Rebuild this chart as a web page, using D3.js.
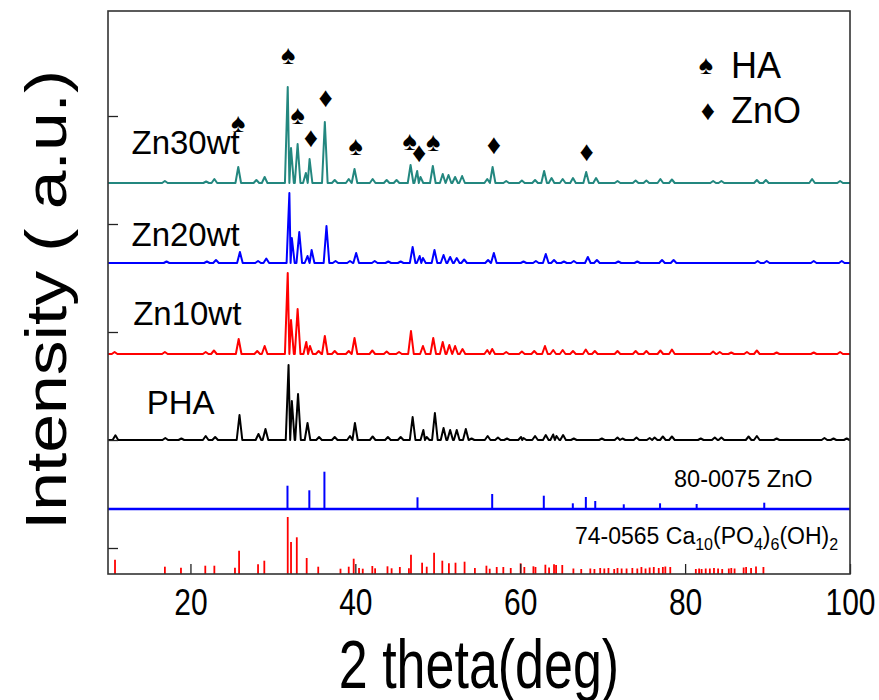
<!DOCTYPE html>
<html>
<head>
<meta charset="utf-8">
<script src="https://cdn.jsdelivr.net/npm/d3@7"></script>
<style>
  body { margin: 0; background: #fff; }
  text { font-family: Arial, "Liberation Sans", sans-serif; }
</style>
</head>
<body>
<div id="chart"></div>
<script>
// XRD patterns, peaks as [2theta, intensity (a.u.)]
var zn30Peaks = [[16.9,2],[21.9,1.5],[22.9,4],[25.8,16],[28.0,3],[29.0,6],[31.8,96],[32.2,35],[33.0,39],[34.0,10],[34.45,24],[36.3,61],[37.5,3],[39.2,4],[39.9,14],[42.1,4],[43.8,3],[45.0,3],[46.7,18],[47.5,12],[47.9,6],[49.4,17],[50.6,9],[51.3,8],[52.1,6],[52.95,7],[56.0,4],[56.65,16],[58.3,2],[60.2,2.5],[61.8,3],[62.9,12],[63.8,5],[65.15,4],[66.4,5],[68.0,11],[69.2,5],[71.8,2],[74.0,2.5],[75.3,2.5],[77.0,4],[78.4,3.5],[83.4,2],[84.4,2],[88.7,3],[89.8,3],[95.4,4],[98.8,2]];
var zn20Peaks = [[17.1,1.5],[22.0,1.5],[23.1,3],[26.0,11],[28.2,2],[29.2,4.5],[32.0,70],[32.3,25],[33.2,31],[34.2,7],[34.7,13],[36.5,37],[37.6,2],[39.35,2],[40.1,10],[42.35,2],[44.0,1.5],[45.5,1.5],[46.95,16],[47.8,7],[48.2,5],[49.6,13],[50.7,8],[51.5,6],[52.3,5],[53.2,3.5],[56.1,3],[56.8,10],[60.4,1.5],[61.9,2],[63.1,9],[64.1,3],[65.3,1.5],[66.5,2],[68.2,6],[69.3,3],[71.9,1.5],[74.2,1.5],[77.2,3],[78.6,3],[88.8,2],[89.9,2],[95.6,2],[99.0,2]];
var zn10Peaks = [[10.8,2],[16.9,2],[21.85,2],[22.85,3.5],[25.85,15],[28.1,3],[29.0,8],[31.8,81],[32.2,34],[33.0,45],[34.05,12],[34.5,8],[35.55,3],[36.3,18],[37.5,3],[39.2,3],[39.9,16],[42.06,3.5],[43.8,2.5],[45.3,2],[46.75,23],[48.2,8],[49.45,16],[50.6,12],[51.4,9],[52.1,8],[53.0,5],[56.0,4],[56.6,5],[58.3,2],[60.2,2.5],[61.7,3],[63.0,8],[64.0,4],[65.15,4],[66.4,3],[67.95,4.5],[69.05,3],[71.8,3],[74.0,3],[75.3,3],[77.0,3.5],[78.4,4.5],[83.4,2.5],[84.2,2],[85.6,1.5],[87.5,2],[88.7,3.5],[91.1,1.5],[95.6,1.5],[98.8,2]];
var phaPeaks = [[10.9,4.7],[16.95,2],[18.9,1.5],[21.85,4],[23.0,3],[25.95,25],[28.25,6],[29.1,11],[31.9,75],[32.3,39],[33.05,46],[34.2,17],[35.6,3],[37.5,3],[39.35,4],[39.95,17],[42.1,3.5],[43.95,3],[45.5,3],[46.95,23],[48.25,10],[48.65,3],[49.65,27],[50.7,12],[51.5,10],[52.3,10],[53.4,11],[54.1,1.5],[56.05,4],[57.3,2.5],[58.4,1.5],[60.1,3],[60.4,2],[61.8,4],[63.1,5],[64.0,5.5],[64.4,4],[65.2,5],[66.5,1.5],[69.9,1.5],[71.8,2.5],[72.4,1.5],[74.1,2.5],[75.7,2],[76.3,2.5],[77.3,3.5],[78.4,3.5],[81.9,1.5],[83.6,2.5],[84.4,2.5],[87.7,3.5],[88.7,4],[91.1,1.5],[96.9,2],[98.0,1.5],[99.6,1.5]];

var sampleNames = ["Zn30wt", "Zn20wt", "Zn10wt", "PHA"];
var sampleOffsets = [365, 285, 194, 108];
var sampleColors = ["#23877f", "#0000ff", "#ff0000", "#000000"];

// reference cards (stick patterns)
var znoSticks = [[31.77,23.3],[34.42,18.7],[36.25,37.3],[47.54,11.7],[56.6,15],[62.86,13.3],[66.38,5.7],[67.96,12],[69.1,8],[72.56,4.7],[76.96,5.7],[81.4,5],[89.6,6.3]];
var haSticks = [[10.85,14.3],[16.9,7.3],[18.85,6.3],[21.8,8.3],[22.9,8.3],[25.4,6.3],[25.9,23.3],[28.2,9.7],[28.96,13.3],[31.8,57],[32.2,32],[32.9,36.7],[34.1,16],[35.5,7.3],[38.2,5.3],[39.2,7.3],[39.8,15.3],[40.45,6],[40.9,5.3],[42.06,8],[42.4,5.7],[43.9,7.7],[44.4,5.7],[45.4,7],[46.5,5.7],[46.75,19.3],[48.1,11.3],[48.66,7.3],[49.55,21.3],[50.55,13.3],[51.35,10.7],[52.15,11.3],[53.25,12.3],[54.5,6],[55.9,8.3],[56.3,5.3],[57.15,7],[57.95,7],[58.85,6],[60.05,10.7],[60.5,7],[61.6,7.7],[61.85,7],[63.05,9.3],[63.5,6.5],[64.1,9.7],[64.35,9],[65.1,9],[66.45,5.5],[67.4,5],[68.5,5.5],[69.0,5],[69.7,6],[70.2,5.5],[70.7,6],[71.4,5],[71.8,6],[72.3,5.5],[72.9,5.5],[73.6,6],[74.2,5.5],[74.7,7],[75.2,5.5],[75.7,6.5],[76.2,7],[76.8,6],[77.3,7],[77.6,7.5],[78.2,7],[81.3,5],[81.7,5.5],[82.0,5],[82.5,5.5],[83.0,5.5],[83.5,6],[84.0,5.5],[84.5,5],[85.3,5.5],[85.6,6],[86.0,5.5],[87.1,6.5],[87.4,7],[88.0,6],[88.6,7.5],[89.5,7]];
var znoOffset = 39;
var haOffset = -26;

// phase markers above the Zn30wt pattern: [2theta, level]
var haMarks = [[25.8,425],[31.85,493],[33.0,433],[40.05,402],[46.6,407],[49.45,406]];
var znoMarks = [[36.4,451],[34.6,411],[47.75,396],[56.8,404],[68.05,397]];

var xTicks = [20, 40, 60, 80, 100];
var yTicks = [0, 108, 216, 324, 432];

var W = 879, H = 700;
var margin = {top: 11, right: 29, bottom: 126, left: 108};

var svg = d3.select("#chart").append("svg")
    .attr("width", W)
    .attr("height", H);

var x = d3.scaleLinear().domain([10, 100]).range([margin.left, W - margin.right]);
var y = d3.scaleLinear().domain([-26, 537]).range([H - margin.bottom, margin.top]);

var HW = 0.34; // half width of a peak foot, deg

function profile(peaks) {
    var s = peaks.slice().sort(function (a, b) { return a[0] - b[0]; });
    var pts = [[10, 0]];
    s.forEach(function (p, i) {
        var prev = i > 0 ? (s[i - 1][0] + p[0]) / 2 : 10;
        var next = i < s.length - 1 ? (s[i + 1][0] + p[0]) / 2 : 100;
        pts.push([Math.max(p[0] - HW, prev), 0], [p[0], p[1]], [Math.min(p[0] + HW, next), 0]);
    });
    pts.push([100, 0]);
    return pts;
}

var allPeaks = [zn30Peaks, zn20Peaks, zn10Peaks, phaPeaks];

var plot = svg.append("g");

allPeaks.forEach(function (peaks, k) {
    var off = sampleOffsets[k];
    var line = d3.line()
        .x(function (d) { return x(d[0]); })
        .y(function (d) { return y(d[1] + off); });
    plot.append("path")
        .attr("d", line(profile(peaks)))
        .attr("fill", "none")
        .attr("stroke", sampleColors[k])
        .attr("stroke-width", 2)
        .attr("stroke-linejoin", "round");
});

// ZnO card
plot.append("line")
    .attr("x1", x(10)).attr("x2", x(100))
    .attr("y1", y(znoOffset)).attr("y2", y(znoOffset))
    .attr("stroke", "#0000ff").attr("stroke-width", 2.5);
plot.selectAll(".zno").data(znoSticks).enter().append("line")
    .attr("class", "zno")
    .attr("x1", function (d) { return x(d[0]); })
    .attr("x2", function (d) { return x(d[0]); })
    .attr("y1", y(znoOffset))
    .attr("y2", function (d) { return y(znoOffset + d[1]); })
    .attr("stroke", "#0000ff").attr("stroke-width", 2);

// HA card
plot.selectAll(".ha").data(haSticks).enter().append("line")
    .attr("class", "ha")
    .attr("x1", function (d) { return x(d[0]); })
    .attr("x2", function (d) { return x(d[0]); })
    .attr("y1", y(haOffset))
    .attr("y2", function (d) { return y(haOffset + d[1]); })
    .attr("stroke", "#ff0000").attr("stroke-width", 1.8);

// axes, ticks inward
var xAxis = d3.axisBottom(x).tickValues(xTicks).tickSizeInner(-10).tickSizeOuter(0);
var gx = svg.append("g")
    .attr("transform", "translate(0," + y(-26) + ")")
    .call(xAxis);
gx.select(".domain").remove();
gx.selectAll("line").attr("stroke", "#222").attr("stroke-width", 1.3);
gx.selectAll("text")
    .attr("y", 0).attr("dy", 0)
    .attr("transform", "translate(0,41) scale(1,1.25)")
    .attr("font-size", 30).attr("fill", "#000")
    .attr("font-family", "Arial, 'Liberation Sans', sans-serif");

var yAxis = d3.axisLeft(y).tickValues(yTicks).tickSizeInner(-10).tickSizeOuter(0).tickFormat("");
var gy = svg.append("g")
    .attr("transform", "translate(" + x(10) + ",0)")
    .call(yAxis);
gy.select(".domain").remove();
gy.selectAll("line").attr("stroke", "#222").attr("stroke-width", 1.3);

svg.append("rect")
    .attr("x", x(10)).attr("y", y(537))
    .attr("width", x(100) - x(10)).attr("height", y(-26) - y(537))
    .attr("fill", "none").attr("stroke", "#333").attr("stroke-width", 1.6);

// sample labels
var labelPos = [[12.85, 29], [12.85, 17], [13.05, 29], [14.7, 26]];
sampleNames.forEach(function (name, k) {
    svg.append("text")
        .attr("x", x(labelPos[k][0]))
        .attr("y", y(sampleOffsets[k]) - labelPos[k][1])
        .attr("font-size", 33)
        .text(name);
});

// phase markers
function mark(sel, data, glyph, size) {
    sel.selectAll(null).data(data).enter().append("text")
        .attr("x", function (d) { return x(d[0]); })
        .attr("y", function (d) { return y(d[1]); })
        .attr("text-anchor", "middle")
        .attr("dominant-baseline", "central")
        .attr("font-family", "'DejaVu Sans', sans-serif")
        .attr("font-size", size)
        .text(glyph);
}
mark(svg, haMarks, "\u2660", 27);
mark(svg, znoMarks, "\u2666", 28);

// legend
var lg = svg.append("g").attr("transform", "translate(706,0)");
lg.append("text").attr("x", 0).attr("y", 65).attr("text-anchor", "middle")
    .attr("dominant-baseline", "central").attr("font-family", "'DejaVu Sans', sans-serif")
    .attr("font-size", 27).text("\u2660");
lg.append("text").attr("x", 2).attr("y", 110).attr("text-anchor", "middle")
    .attr("dominant-baseline", "central").attr("font-family", "'DejaVu Sans', sans-serif")
    .attr("font-size", 28).text("\u2666");
lg.append("text").attr("x", 25).attr("y", 78).attr("font-size", 36).text("HA");
lg.append("text").attr("x", 25).attr("y", 123).attr("font-size", 36).text("ZnO");

// card labels
svg.append("text")
    .attr("x", 674).attr("y", 487)
    .attr("font-size", 23.5)
    .text("80-0075 ZnO");
var card = svg.append("text")
    .attr("x", 575).attr("y", 544)
    .attr("font-size", 23);
card.append("tspan").text("74-0565 Ca");
card.append("tspan").attr("font-size", 16).attr("dy", 6).text("10");
card.append("tspan").attr("dy", -6).text("(PO");
card.append("tspan").attr("font-size", 16).attr("dy", 6).text("4");
card.append("tspan").attr("dy", -6).text(")");
card.append("tspan").attr("font-size", 16).attr("dy", 6).text("6");
card.append("tspan").attr("dy", -6).text("(OH)");
card.append("tspan").attr("font-size", 16).attr("dy", 6).text("2");

// axis titles
svg.append("text")
    .attr("transform", "translate(" + ((x(10) + x(100)) / 2) + ",688) scale(1,1.3)")
    .attr("text-anchor", "middle")
    .attr("font-size", 52)
    .text("2 theta(deg)");
svg.append("text")
    .attr("transform", "translate(66,300) rotate(-90) scale(1.2,1)")
    .attr("text-anchor", "middle")
    .attr("font-size", 58)
    .text("Intensity ( a.u.)");
</script>
</body>
</html>
